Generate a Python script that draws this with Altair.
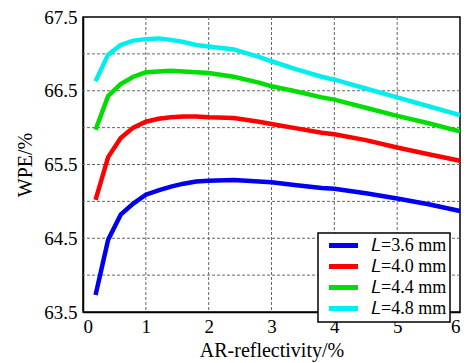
import altair as alt
import pandas as pd

x_vals = [0.2, 0.4, 0.6, 0.8, 1.0, 1.2, 1.4, 1.6, 1.8, 2.0, 2.4, 2.8, 3.0, 3.4, 3.8, 4.0, 4.5, 5.0, 5.5, 6.0]
wpe_36 = [63.73, 64.48, 64.82, 64.97, 65.09, 65.15, 65.20, 65.24, 65.27, 65.28, 65.29, 65.27, 65.26, 65.22, 65.18, 65.17, 65.11, 65.04, 64.96, 64.87]
wpe_40 = [65.02, 65.60, 65.86, 66.00, 66.08, 66.12, 66.14, 66.15, 66.15, 66.14, 66.13, 66.08, 66.05, 65.99, 65.93, 65.91, 65.83, 65.73, 65.64, 65.55]
wpe_44 = [65.97, 66.43, 66.59, 66.69, 66.75, 66.76, 66.77, 66.76, 66.75, 66.74, 66.69, 66.61, 66.56, 66.49, 66.41, 66.38, 66.27, 66.16, 66.06, 65.95]
wpe_48 = [66.63, 66.99, 67.12, 67.18, 67.20, 67.21, 67.19, 67.16, 67.12, 67.10, 67.06, 66.96, 66.90, 66.79, 66.69, 66.65, 66.53, 66.41, 66.29, 66.17]

series_names = ["𝐿=3.6 mm", "𝐿=4.0 mm", "𝐿=4.4 mm", "𝐿=4.8 mm"]
series_colors = ["#0000ee", "#ff0000", "#00dd00", "#00eeee"]
series_values = [wpe_36, wpe_40, wpe_44, wpe_48]

rows = []
for name, vals in zip(series_names, series_values):
    for xv, yv in zip(x_vals, vals):
        rows.append({"series": name, "ar": xv, "wpe": yv})
df = pd.DataFrame(rows)

x_domain = [0, 6]
y_domain = [63.5, 67.5]
y_grid = [64.0, 64.5, 65.0, 65.5, 66.0, 66.5, 67.0]
y_ticks = [63.5, 64.5, 65.5, 66.5, 67.5]
x_grid = [1, 2, 3, 4, 5]
x_ticks = [0, 1, 2, 3, 4, 5, 6]

FONT = "Liberation Serif"
X_TITLE = "AR-reflectivity/%"
Y_TITLE = "WPE/%"

xscale = alt.Scale(domain=x_domain, nice=False, zero=False)
yscale = alt.Scale(domain=y_domain, nice=False, zero=False)

grid_y = alt.Chart(pd.DataFrame({"g": y_grid})).mark_rule(
    color="#666666", strokeWidth=1, strokeDash=[3, 2]
).encode(y=alt.Y("g:Q", scale=yscale, axis=None))

grid_x = alt.Chart(pd.DataFrame({"g": x_grid})).mark_rule(
    color="#666666", strokeWidth=1, strokeDash=[3, 2]
).encode(x=alt.X("g:Q", scale=xscale, axis=None))

axis_style = dict(
    labelFont=FONT, labelFontSize=19, labelColor="black",
    titleFont=FONT, titleFontSize=20, titleFontWeight="normal", titleColor="black",
    grid=False, ticks=False, domainColor="black", domainWidth=1.5,
)

lines = alt.Chart(df).mark_line(strokeWidth=4.5).encode(
    x=alt.X("ar:Q", title=X_TITLE, scale=xscale,
            axis=alt.Axis(values=x_ticks, format="d", labelPadding=5, titlePadding=4, **axis_style)),
    y=alt.Y("wpe:Q", title=Y_TITLE, scale=yscale,
            axis=alt.Axis(values=y_ticks, format=".1f", labelPadding=6, titlePadding=8, **axis_style)),
    color=alt.Color("series:N", sort=series_names,
                    scale=alt.Scale(domain=series_names, range=series_colors),
                    legend=alt.Legend(title=None, orient="none", legendX=235, legendY=216,
                                      symbolType="M-0.23,0H4.22", symbolSize=170, symbolStrokeWidth=5,
                                      labelFont=FONT, labelFontSize=18, labelColor="black",
                                      labelOffset=31, rowPadding=0, padding=3,
                                      strokeColor="black", fillColor="white", cornerRadius=0)),
    order=alt.Order("ar:Q"),
)

chart = alt.layer(grid_y, grid_x, lines).resolve_axis(
    x="independent", y="independent"
).properties(
    width=377, height=295,
    autosize=alt.AutoSizeParams(type="none"),
    padding={"left": 83, "top": 17, "right": 9, "bottom": 51},
).configure_view(
    stroke="black", strokeWidth=1.5,
).configure_legend(
    strokeWidth=1.5,
)

chart.save("out.html", embed_options={"renderer": "svg", "actions": False})
